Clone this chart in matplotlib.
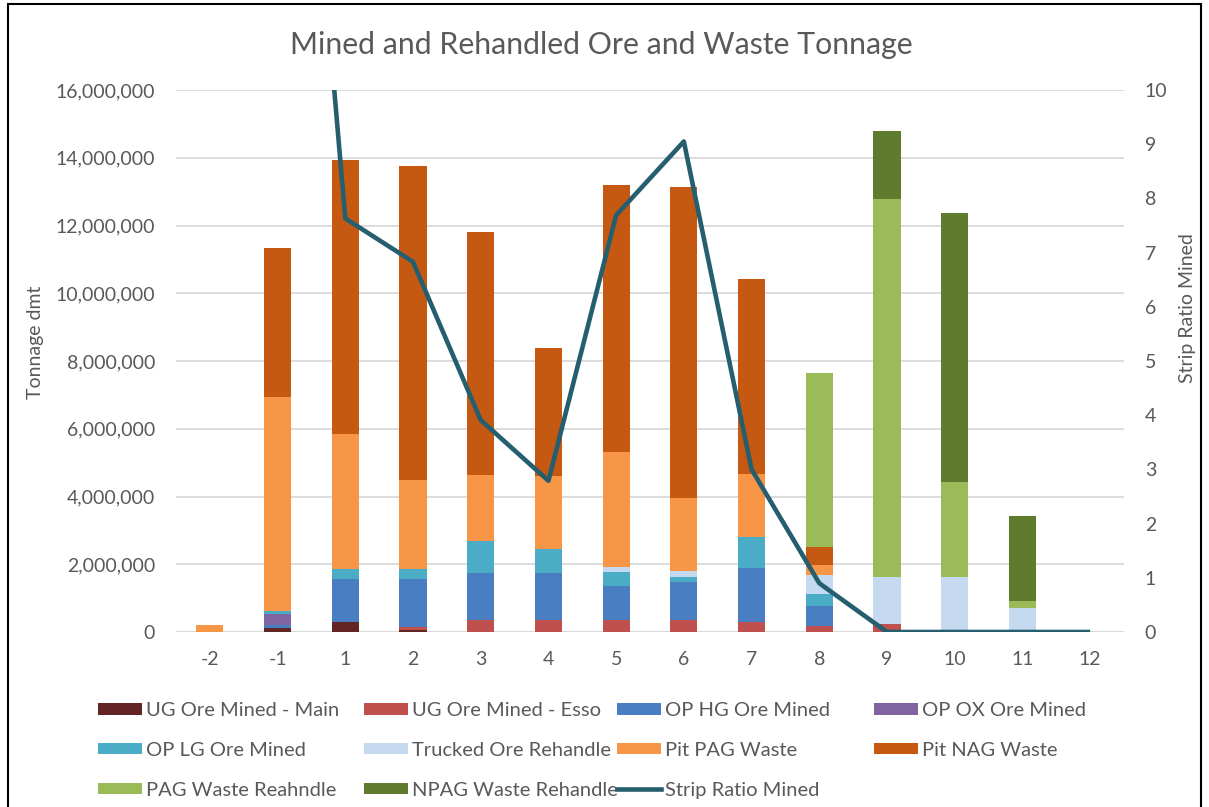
import matplotlib
matplotlib.use("Agg")
import matplotlib.pyplot as plt
import numpy as np
from matplotlib.patches import Patch, Rectangle
from matplotlib.lines import Line2D
from matplotlib.ticker import FuncFormatter, MultipleLocator

plt.rcParams['font.family'] = ['Lato', 'DejaVu Sans']

# Periods (years relative to start of mining)
periods = ["-2", "-1", "1", "2", "3", "4", "5", "6", "7", "8", "9", "10", "11", "12"]

# Tonnage by material type (dmt)
ug_ore_main      = [0, 120000, 300000, 60000, 0, 0, 0, 0, 0, 0, 0, 0, 0, 0]
ug_ore_esso      = [0, 0, 0, 80000, 350000, 350000, 350000, 350000, 300000, 170000, 230000, 0, 0, 0]
op_hg_ore        = [0, 80000, 1250000, 1410000, 1380000, 1390000, 1010000, 1140000, 1580000, 610000, 0, 0, 0, 0]
op_ox_ore        = [0, 330000, 0, 0, 0, 0, 0, 0, 0, 0, 0, 0, 0, 0]
op_lg_ore        = [0, 100000, 300000, 300000, 960000, 700000, 420000, 120000, 920000, 330000, 0, 0, 0, 0]
trucked_rehandle = [0, 0, 0, 0, 0, 0, 130000, 200000, 0, 570000, 1400000, 1630000, 720000, 0]
pit_pag_waste    = [220000, 6300000, 4000000, 2650000, 1930000, 2160000, 3390000, 2140000, 1860000, 300000, 0, 0, 0, 0]
pit_nag_waste    = [0, 4400000, 8070000, 9250000, 7180000, 3770000, 7900000, 9200000, 5750000, 540000, 0, 0, 0, 0]
pag_rehandle     = [0, 0, 0, 0, 0, 0, 0, 0, 0, 5130000, 11150000, 2810000, 200000, 0]
npag_rehandle    = [0, 0, 0, 0, 0, 0, 0, 0, 0, 0, 2010000, 7930000, 2510000, 0]

# Strip ratio (waste : ore mined); undefined before ore is mined
strip_ratio = [np.nan, 22.2, 7.63, 6.83, 3.91, 2.79, 7.69, 9.05, 3.0, 0.9, 0, 0, 0, 0]

series = [
    ("UG Ore Mined - Main", ug_ore_main, "#632523"),
    ("UG Ore Mined - Esso", ug_ore_esso, "#C0504D"),
    ("OP HG Ore Mined", op_hg_ore, "#4A7EC2"),
    ("OP OX Ore Mined", op_ox_ore, "#8064A2"),
    ("OP LG Ore Mined", op_lg_ore, "#4BACC6"),
    ("Trucked Ore Rehandle", trucked_rehandle, "#C5D9F1"),
    ("Pit PAG Waste", pit_pag_waste, "#F79646"),
    ("Pit NAG Waste", pit_nag_waste, "#C65911"),
    ("PAG Waste Reahndle", pag_rehandle, "#9BBB59"),
    ("NPAG Waste Rehandle", npag_rehandle, "#5F7B2E"),
]
line_color = "#255E6E"
text_color = "#595959"
grid_color = "#D9D9D9"

W, H = 1209, 807
fig = plt.figure(figsize=(W / 100, H / 100), dpi=100)
ax = fig.add_axes([176 / W, 1 - 632 / H, (1124 - 176) / W, (632 - 90) / H])

x = np.arange(len(periods))
bottom = np.zeros(len(periods))
for name, vals, col in series:
    v = np.array(vals, dtype=float)
    ax.bar(x, v, width=0.4, bottom=bottom, color=col, linewidth=0, zorder=3)
    bottom += v

ax.set_xlim(-0.5, len(periods) - 0.5)
ax.set_ylim(0, 16000000)
ax.yaxis.set_major_locator(MultipleLocator(2000000))
ax.yaxis.set_major_formatter(FuncFormatter(lambda v, p: f"{int(v):,}"))
ax.set_xticks(x)
ax.set_xticklabels(periods)
ax.grid(axis="y", color=grid_color, linewidth=1.3, zorder=0)
for s in ax.spines.values():
    s.set_visible(False)
ax.axhline(0, color=grid_color, linewidth=1.3, zorder=2)
ax.tick_params(axis="both", length=0, labelsize=14, colors=text_color)
ax.tick_params(axis="x", pad=14)
ax.tick_params(axis="y", pad=15)

ax2 = ax.twinx()
ax2.plot(x, strip_ratio, color=line_color, linewidth=3.3, solid_capstyle="butt", zorder=5)
ax2.set_ylim(0, 10)
ax2.yaxis.set_major_locator(MultipleLocator(1))
for s in ax2.spines.values():
    s.set_visible(False)
ax2.tick_params(axis="y", length=0, labelsize=14, colors=text_color, pad=15)

fig.text(36 / W, 1 - 342 / H, "Tonnage dmt", rotation=90, ha="center", va="center",
         fontsize=14, color=text_color)
fig.text(1187 / W, 1 - 308 / H, "Strip Ratio Mined", rotation=90, ha="center", va="center",
         fontsize=14, color=text_color)

fig.text(601 / W, 1 - 45 / H, "Mined and Rehandled Ore and Waste Tonnage",
         ha="center", va="center", fontsize=21.8, color=text_color)

# Legend laid out in four columns of up to three rows
handles = [Patch(facecolor=c, edgecolor="none") for _, _, c in series]
labels = [n for n, _, _ in series]
line_handle = Line2D([0], [0], color=line_color, linewidth=3.3)
columns = [
    ([handles[0], handles[4], handles[8]], [labels[0], labels[4], labels[8]], 98),
    ([handles[1], handles[5], handles[9]], [labels[1], labels[5], labels[9]], 364),
    ([handles[2], handles[6], line_handle], [labels[2], labels[6], "Strip Ratio Mined"], 617),
    ([handles[3], handles[7]], [labels[3], labels[7]], 874),
]
for hs, ls, xl in columns:
    fig.legend(hs, ls, loc="upper left", bbox_to_anchor=(xl / W, 1 - 702 / H),
               frameon=False, fontsize=14.5, labelcolor=text_color,
               handlelength=2.19, handleheight=0.5, handletextpad=0.2,
               labelspacing=1.13, borderpad=0, borderaxespad=0)

fig.patches.append(Rectangle((8 / W, -0.01), (1201 - 8) / W, 1.01 - 4 / H,
                             transform=fig.transFigure, fill=False,
                             edgecolor="black", linewidth=1.5))

fig.savefig("out.png", dpi=100)
